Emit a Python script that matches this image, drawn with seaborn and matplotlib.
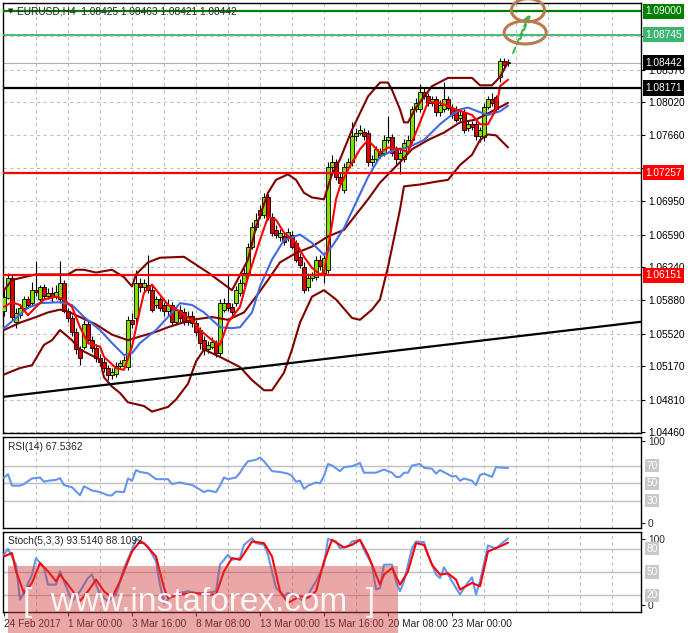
import numpy as np
import matplotlib
matplotlib.use("Agg")
import matplotlib.pyplot as plt
from matplotlib.patches import Ellipse, Rectangle
import seaborn as sns

sns.set_style("white")
plt.rcParams['font.family'] = ['Liberation Sans', 'DejaVu Sans']

# EURUSD H4 candles (bar index = list position)
opens = [1.0576,1.0591,1.0612,1.0565,1.0572,1.0580,1.0589,1.0585,1.0599,1.0589,
         1.0602,1.0593,1.0596,1.0592,1.0589,1.0607,1.0576,1.0569,1.0554,1.0535,
         1.0538,1.0562,1.0545,1.0537,1.0526,1.0522,1.0515,1.0507,1.0509,1.0517,
         1.0517,1.0516,1.0567,1.0569,1.0607,1.0602,1.0605,1.0599,1.0583,1.0589,
         1.0583,1.0576,1.0583,1.0565,1.0578,1.0575,1.0565,1.0571,1.0564,1.0556,
         1.0545,1.0535,1.0538,1.0542,1.0531,1.0578,1.0585,1.0581,1.0585,1.0596,
         1.0607,1.0618,1.0646,1.0667,1.0686,1.0680,1.0699,1.0678,1.0664,1.0656,
         1.0657,1.0656,1.0659,1.0650,1.0635,1.0624,1.0602,1.0612,1.0613,1.0632,
         1.0618,1.0621,1.0732,1.0737,1.0721,1.0707,1.0732,1.0737,1.0765,1.0769,
         1.0770,1.0769,1.0737,1.0740,1.0747,1.0747,1.0761,1.0764,1.0751,1.0740,
         1.0740,1.0754,1.0761,1.0794,1.0794,1.0813,1.0808,1.0801,1.0805,1.0791,
         1.0794,1.0805,1.0796,1.0794,1.0785,1.0791,1.0774,1.0778,1.0778,1.0765,
         1.0764,1.0797,1.0805,1.0807,1.0829,1.0846,1.0845]
closes = [1.0592,1.0612,1.0570,1.0574,1.0580,1.0589,1.0583,1.0599,1.0597,1.0602,
          1.0593,1.0596,1.0592,1.0597,1.0607,1.0576,1.0569,1.0554,1.0535,1.0526,
          1.0562,1.0545,1.0537,1.0526,1.0522,1.0515,1.0507,1.0511,1.0517,1.0520,
          1.0524,1.0567,1.0562,1.0607,1.0602,1.0607,1.0599,1.0578,1.0589,1.0580,
          1.0576,1.0583,1.0565,1.0578,1.0569,1.0565,1.0571,1.0564,1.0554,1.0542,
          1.0535,1.0540,1.0543,1.0531,1.0585,1.0585,1.0580,1.0575,1.0599,1.0607,
          1.0618,1.0646,1.0667,1.0675,1.0680,1.0699,1.0678,1.0661,1.0659,1.0661,
          1.0651,1.0662,1.0646,1.0632,1.0626,1.0599,1.0612,1.0615,1.0632,1.0625,
          1.0634,1.0732,1.0737,1.0721,1.0715,1.0732,1.0737,1.0765,1.0769,1.0772,
          1.0765,1.0737,1.0740,1.0751,1.0745,1.0761,1.0764,1.0747,1.0740,1.0747,
          1.0758,1.0761,1.0794,1.0801,1.0813,1.0808,1.0801,1.0805,1.0791,1.0799,
          1.0805,1.0796,1.0788,1.0783,1.0788,1.0772,1.0778,1.0775,1.0765,1.0772,
          1.0797,1.0805,1.0801,1.0794,1.0846,1.0842,1.0844]
highs = [1.0599,1.0617,1.0615,1.0580,1.0584,1.0593,1.0593,1.0608,1.0630,1.0605,
         1.0606,1.0601,1.0602,1.0605,1.0630,1.0610,1.0580,1.0572,1.0558,1.0539,
         1.0567,1.0567,1.0550,1.0541,1.0530,1.0526,1.0518,1.0515,1.0522,1.0524,
         1.0528,1.0571,1.0574,1.0621,1.0612,1.0611,1.0637,1.0604,1.0593,1.0592,
         1.0586,1.0589,1.0586,1.0582,1.0583,1.0580,1.0576,1.0576,1.0567,1.0559,
         1.0550,1.0544,1.0548,1.0545,1.0589,1.0591,1.0615,1.0585,1.0604,1.0611,
         1.0623,1.0650,1.0673,1.0682,1.0691,1.0704,1.0703,1.0682,1.0669,1.0665,
         1.0661,1.0666,1.0663,1.0653,1.0639,1.0629,1.0617,1.0619,1.0636,1.0637,
         1.0638,1.0737,1.0745,1.0740,1.0726,1.0736,1.0742,1.0780,1.0774,1.0777,
         1.0774,1.0772,1.0745,1.0755,1.0752,1.0766,1.0787,1.0767,1.0754,1.0752,
         1.0762,1.0766,1.0798,1.0806,1.0821,1.0818,1.0812,1.0809,1.0808,1.0804,
         1.0824,1.0808,1.0800,1.0798,1.0793,1.0794,1.0782,1.0782,1.0781,1.0775,
         1.0801,1.0809,1.0812,1.0810,1.0850,1.0850,1.0848]
lows = [1.0571,1.0589,1.0567,1.0558,1.0569,1.0577,1.0580,1.0582,1.0593,1.0585,
        1.0590,1.0589,1.0586,1.0589,1.0585,1.0574,1.0565,1.0550,1.0530,1.0518,
        1.0535,1.0541,1.0532,1.0522,1.0517,1.0511,1.0502,1.0503,1.0505,1.0514,
        1.0514,1.0513,1.0558,1.0565,1.0597,1.0598,1.0596,1.0575,1.0580,1.0577,
        1.0571,1.0571,1.0561,1.0562,1.0565,1.0561,1.0561,1.0559,1.0550,1.0535,
        1.0529,1.0531,1.0535,1.0527,1.0528,1.0575,1.0577,1.0571,1.0582,1.0593,
        1.0604,1.0615,1.0643,1.0664,1.0677,1.0677,1.0675,1.0657,1.0655,1.0652,
        1.0648,1.0652,1.0643,1.0629,1.0623,1.0596,1.0598,1.0609,1.0610,1.0621,
        1.0607,1.0618,1.0727,1.0718,1.0711,1.0704,1.0729,1.0733,1.0760,1.0766,
        1.0761,1.0733,1.0733,1.0737,1.0742,1.0744,1.0758,1.0744,1.0733,1.0724,
        1.0737,1.0751,1.0758,1.0791,1.0791,1.0805,1.0798,1.0798,1.0787,1.0787,
        1.0791,1.0793,1.0785,1.0780,1.0782,1.0769,1.0771,1.0772,1.0761,1.0759,
        1.0760,1.0794,1.0798,1.0791,1.0824,1.0839,1.0841]

# indicator lines (bar, value)
bb_up_x = [0,2,8,16,18,20,23,27,30,32,33,36,39,45,51,57,58,61,63,66,68,71,73,75,77,80,82,84,87,91,
           94,96,97,99,100,101,103,107,111,117,119,122,124,126]
bb_up = [1.0599,1.0610,1.0616,1.0616,1.0621,1.0621,1.0618,1.0621,1.0613,1.0603,1.0616,1.0629,1.0634,
         1.0635,1.0618,1.0599,1.0607,1.0632,1.0667,1.0704,1.0718,1.0724,1.0718,1.0704,1.0699,1.0697,
         1.0724,1.0740,1.0772,1.0808,1.0823,1.0823,1.0815,1.0794,1.0780,1.0780,1.0796,1.0819,1.0828,
         1.0828,1.0820,1.0820,1.0829,1.0845]
bb_mid_x = [0,4,8,11,14,16,19,23,27,31,34,38,41,44,47,52,56,60,63,66,69,73,77,81,85,91,94,99,102,106,
            110,114,118,122,126]
bb_mid = [1.0556,1.0564,1.0570,1.0575,1.0578,1.0576,1.0570,1.0562,1.0551,1.0545,1.0549,1.0554,1.0559,
          1.0563,1.0567,1.0570,1.0567,1.0575,1.0592,1.0610,1.0629,1.0639,1.0646,1.0657,1.0664,1.0697,
          1.0715,1.0737,1.0751,1.0761,1.0769,1.0780,1.0783,1.0792,1.0801]
bb_low_x = [0,4,7,10,12,14,17,19,24,25,27,29,31,35,37,41,43,46,48,50,54,59,62,65,67,70,72,74,77,80,
            83,87,89,92,94,96,99,100,104,108,111,114,117,119,121,123,126]
bb_low = [1.0508,1.0515,1.0518,1.0540,1.0545,1.0556,1.0545,1.0535,1.0524,1.0505,1.0495,1.0488,1.0478,
          1.0474,1.0468,1.0473,1.0481,1.0498,1.0522,1.0535,1.0527,1.0516,1.0502,1.0491,1.0491,1.0510,
          1.0535,1.0564,1.0592,1.0599,1.0589,1.0569,1.0567,1.0578,1.0589,1.0624,1.0686,1.0711,1.0713,
          1.0716,1.0718,1.0734,1.0745,1.0761,1.0767,1.0766,1.0753]
ma_slow_x = [0,3,6,9,14,17,20,24,27,30,32,34,38,41,44,47,50,54,57,59,62,64,67,70,74,77,80,82,85,91,
             94,98,101,105,109,111,114,116,119,121,124,126]
ma_slow = [1.0558,1.0569,1.0580,1.0585,1.0586,1.0583,1.0570,1.0556,1.0542,1.0529,1.0531,1.0542,1.0556,
           1.0570,1.0585,1.0583,1.0575,1.0559,1.0558,1.0559,1.0575,1.0603,1.0632,1.0653,1.0659,1.0650,
           1.0637,1.0646,1.0666,1.0721,1.0743,1.0751,1.0753,1.0761,1.0778,1.0785,1.0794,1.0796,1.0791,
           1.0788,1.0792,1.0798]
ma_fast_x = [0,2,4,6,8,10,13,15,17,19,21,24,25,28,30,32,34,35,37,39,41,44,45,47,49,52,54,56,59,61,
             64,66,68,70,73,75,77,79,80,82,83,84,86,89,91,94,96,99,101,104,106,109,113,117,119,121,
             123,124,126]
ma_fast = [1.0581,1.0586,1.0583,1.0572,1.0581,1.0589,1.0592,1.0589,1.0581,1.0559,1.0542,1.0538,1.0527,
           1.0515,1.0513,1.0538,1.0578,1.0596,1.0605,1.0594,1.0583,1.0576,1.0572,1.0567,1.0556,1.0545,
           1.0540,1.0564,1.0581,1.0613,1.0653,1.0678,1.0675,1.0661,1.0650,1.0635,1.0623,1.0616,1.0618,
           1.0670,1.0697,1.0711,1.0729,1.0751,1.0761,1.0747,1.0753,1.0751,1.0748,1.0780,1.0802,1.0801,
           1.0794,1.0788,1.0778,1.0778,1.0794,1.0819,1.0826]

rsi_x = [0,1,2,4,5,7,9,10,11,13,14,15,17,19,20,22,24,26,27,28,30,31,32,33,34,36,38,39,41,42,
         44,45,47,48,50,51,53,54,55,56,58,59,60,61,63,64,65,67,69,71,72,73,74,75,76,78,79,80,81,82,
         84,85,87,89,90,93,95,97,98,99,100,101,102,104,105,107,108,109,111,112,113,114,115,117,118,
         119,120,122,123,126]
rsi = [56.7,60.4,47.4,47.4,49.3,55.6,56.7,51.9,53,54,56,48,45.6,36.3,46.7,41.9,40,36.3,36.3,40.7,
       40,55.6,53,65.2,63,61.5,54.8,54.8,54.8,49.3,51.1,50,48.1,45.6,40,41.9,40,47.4,56.7,54.8,
       56.7,62.2,69.6,75.2,77,79.6,75.2,64,63,61.1,58.5,51.9,53,43.7,47.4,51.1,50,58.5,72.2,70.4,
       64,68.5,69.6,73.3,62.2,62.2,65.9,62.2,57.4,57.4,62.2,62.2,70.4,72.2,67.8,66.7,61.1,65.2,60.4,
       57.8,58.5,53,55.6,53,48.1,59.6,61.1,57.4,68.5,67.5]

stoch_k_x = [0,1,3,4,5,7,8,10,11,13,14,16,17,19,21,22,24,26,28,30,32,33,34,36,38,39,40,42,44,46,
             48,51,53,54,56,57,59,60,62,63,65,66,68,70,71,73,75,76,78,80,81,83,84,86,87,89,90,92,93,
             94,95,97,98,99,100,102,103,105,106,108,109,110,112,114,115,117,118,119,121,123,124,126]
stoch_k = [72.4,80.2,59.5,14.2,22.8,46.6,68.1,55.2,33.6,33.6,50.9,25,12.1,25,42.2,46.6,20.7,12.1,20.7,
           55.2,78.9,93.1,90.5,83.2,63.8,33.6,9.9,18.5,22.8,25,22.8,22.8,25,59.5,72.4,65.9,68.1,85.3,
           94,87.5,85.3,72.4,29.3,18.5,22.8,18.5,12.1,20.7,37.9,59.5,93.1,89.7,81,83.2,89.7,91.8,78.9,
           59.5,27.2,29.3,59.5,59.5,37.9,25,37.9,81,89.7,88.8,72.4,46.6,42.2,56,37.9,20.7,29.3,43.1,
           20.7,37.9,84.5,80.2,85.3,93.5]
stoch_d_x = [0,2,3,5,7,9,11,13,14,16,19,21,23,25,27,29,32,34,35,38,40,41,44,47,51,53,55,57,59,62,
             65,67,69,71,74,76,78,80,82,85,87,89,91,94,95,97,99,101,103,105,107,109,111,113,114,117,
             119,121,124,126]
stoch_d = [70.3,74.6,50.9,22.8,35.8,61.6,50.9,37.9,46.6,33.6,12.1,25,40.1,25,16.4,37.9,76.7,89.7,87.5,
           70.3,29.3,16.4,20.7,22.8,20.7,20.7,50.9,68.1,65.9,89.7,87.5,70.3,25,9.9,18.5,16.4,25,63.8,
           91.8,81.9,85.3,91.8,72.4,33.6,46.6,55.2,33.6,50.9,87.5,85.3,59.5,46.6,48.1,40.1,27.2,35.8,
           31.5,76.7,83.2,88.1]

# chart furniture
price_ticks = [1.0446, 1.0481, 1.0517, 1.0552, 1.0588, 1.0624, 1.0659, 1.0695,
               1.0731, 1.0766, 1.0802, 1.0837, 1.0873]
hidden_ticks = [1.0731, 1.0873]   # covered by level boxes on the original
levels = [1.09000, 1.08745, 1.08171, 1.07257, 1.06151]
level_colors = ['#008000', '#3cb371', '#000000', '#ff0000', '#ff0000']
last_price = 1.08442
trend_pts = [(0, 1.0484), (126, 1.0548)]
label_bars = [0, 16, 32, 48, 64, 80, 96, 112]
label_text = ['24 Feb 2017', '1 Mar 00:00', '3 Mar 16:00', '8 Mar 08:00',
              '13 Mar 00:00', '15 Mar 16:00', '20 Mar 08:00', '23 Mar 00:00']
arrow_from = [(127.0, 1.0852), (128.8, 1.0867)]
arrow_to = [(131.5, 1.0899), (131.8, 1.0899)]
circles = [(131.0, 1.0901, 8.3), (130.3, 1.0877, 10.5)]

W, H = 688, 633
fig = plt.figure(figsize=(W / 100, H / 100), dpi=100)
ax = fig.add_axes([3 / W, 1 - 433 / H, 638 / W, 430 / H])
ax_rsi = fig.add_axes([3 / W, 1 - 528 / H, 638 / W, 91 / H])
ax_st = fig.add_axes([3 / W, 1 - 612 / H, 638 / W, 80 / H])

grid_kw = dict(color='#c0c0c0', lw=0.8, ls=(0, (3, 3)))
xlim = (-0.25, 159.25)
for a in (ax, ax_rsi, ax_st):
    a.set_xlim(*xlim)
    a.set_xticks(np.arange(8, 160, 8), minor=True)
    a.grid(which='minor', axis='x', **grid_kw)
    a.set_axisbelow(True)
    for s in a.spines.values():
        s.set_color('black')
        s.set_linewidth(1)

# candles
x = np.arange(len(closes))
o, c, h, l = map(np.array, (opens, closes, highs, lows))
up = c >= o
ax.vlines(x, np.minimum(l, np.minimum(o, c)), np.maximum(h, np.maximum(o, c)),
          color='black', lw=0.8, zorder=3)
body = np.maximum(np.abs(c - o), 0.00004)
ax.bar(x[up], body[up], bottom=o[up], width=0.78, color='#7fe000',
       edgecolor='black', linewidth=0.6, zorder=4)
ax.bar(x[~up], body[~up], bottom=c[~up], width=0.78, color='#e00000',
       edgecolor='black', linewidth=0.6, zorder=4)

for xs, ys, col in [(bb_up_x, bb_up, '#800000'), (bb_mid_x, bb_mid, '#800000'),
                    (bb_low_x, bb_low, '#800000'), (ma_slow_x, ma_slow, '#4169e1'),
                    (ma_fast_x, ma_fast, '#ff0000')]:
    sns.lineplot(x=xs, y=ys, ax=ax, color=col, linewidth=1.5, zorder=5)

ax.axline(trend_pts[0], trend_pts[1], color='black', lw=1.6, zorder=6)
ax.axhline(last_price, color='#b0b0b0', lw=0.8, zorder=2)
for lv, col in zip(levels, level_colors):
    ax.axhline(lv, color=col, lw=1.6 if col != '#3cb371' else 1.3, zorder=6)

for (x0, y0), (x1, y1) in zip(arrow_from, arrow_to):
    ax.annotate('', xy=(x1, y1), xytext=(x0, y0), annotation_clip=False,
                arrowprops=dict(arrowstyle='-|>', color='#2db84a', lw=1.4,
                                ls=(0, (3, 2)), mutation_scale=8), zorder=7)
for cx, cy, cw in circles:
    ax.add_patch(Ellipse((cx, cy), cw, 0.00248, fill=False, ec='#b97a52',
                         lw=2.2, clip_on=False, zorder=8))

ax.set_ylim(1.04449, 1.09088)
ax.set_yticks(price_ticks)
ax.set_yticklabels(['' if p in hidden_ticks else f'{p:.5f}' for p in price_ticks])
ax.grid(which='major', axis='y', **grid_kw)
ax.yaxis.tick_right()
ax.tick_params(axis='y', length=3, pad=2, labelsize=7.3, colors='black')
ax.tick_params(axis='x', which='both', length=0, labelbottom=False)
ax.set_xticks([])
ax.set_xlabel('')
ax.set_ylabel('')

box_levels = levels + [last_price]
box_colors = level_colors + ['#000000']
for lv, col in zip(box_levels, box_colors):
    ax.annotate(f'{lv:.5f}', xy=(1, lv), xycoords=('axes fraction', 'data'),
                xytext=(3, 0), textcoords='offset points', va='center', ha='left',
                fontsize=7.3, color='white', annotation_clip=False, zorder=10,
                bbox=dict(boxstyle='square,pad=0.25', fc=col, ec='none'))

# RSI
sns.lineplot(x=rsi_x, y=rsi, ax=ax_rsi, color='#6495ed', linewidth=1.5, zorder=5)
ax_rsi.set_ylim(-1, 103)
for lv in (70, 50, 30):
    ax_rsi.axhline(lv, color='#c0c0c0', lw=1, zorder=2)
    ax_rsi.annotate(str(lv), xy=(1, lv), xycoords=('axes fraction', 'data'),
                    xytext=(4, 0), textcoords='offset points', va='center', ha='left',
                    fontsize=7.3, color='white', annotation_clip=False,
                    bbox=dict(boxstyle='square,pad=0.15', fc='#c8c8c8', ec='none'))
ax_rsi.set_yticks([4.7, 98.4])
ax_rsi.set_yticklabels(['0', '100'])
ax_rsi.yaxis.tick_right()
ax_rsi.tick_params(axis='y', length=3, pad=2, labelsize=7.3)
ax_rsi.set_xticks([])
ax_rsi.set_xlabel('')
ax_rsi.set_ylabel('')

# Stochastic
sns.lineplot(x=stoch_k_x, y=stoch_k, ax=ax_st, color='#6495ed', linewidth=1.5, zorder=5)
sns.lineplot(x=stoch_d_x, y=stoch_d, ax=ax_st, color='#ff0000', linewidth=1.5, zorder=6)
ax_st.set_ylim(-2, 102)
for lv in (80, 50, 20):
    ax_st.axhline(lv, color='#c0c0c0', lw=1, zorder=2)
    ax_st.annotate(str(lv), xy=(1, lv), xycoords=('axes fraction', 'data'),
                   xytext=(4, 0), textcoords='offset points', va='center', ha='left',
                   fontsize=7.3, color='white', annotation_clip=False,
                   bbox=dict(boxstyle='square,pad=0.15', fc='#c8c8c8', ec='none'))
ax_st.set_yticks([7.5, 93.3])
ax_st.set_yticklabels(['0', '100'])
ax_st.yaxis.tick_right()
ax_st.tick_params(axis='y', length=3, pad=2, labelsize=7.3)
ax_st.set_xticks(label_bars)
ax_st.set_xticklabels(label_text, ha='left', fontsize=7.3)
ax_st.tick_params(axis='x', which='major', length=3, pad=2, bottom=True)
ax_st.set_xlim(*xlim)
ax_st.set_xlabel('')
ax_st.set_ylabel('')

# headers
fig.text(8 / W, 1 - 11 / H, '\u25bc', fontsize=5, va='center', family=['DejaVu Sans'])
fig.text(17 / W, 1 - 11 / H, 'EURUSD,H4  1.08425 1.08463 1.08421 1.08442',
         fontsize=7.3, va='center')
fig.text(8 / W, 1 - 447 / H, 'RSI(14) 67.5362', fontsize=7.3, va='center')
fig.text(8 / W, 1 - 541 / H, 'Stoch(5,3,3) 93.5140 88.1092', fontsize=7.3, va='center')

# watermark
fig.patches.append(Rectangle((8 / W, 0), 390 / W, 67 / H, transform=fig.transFigure,
                             fc='#d23c3c', alpha=0.45, ec='none', zorder=20))
fig.text(199 / W, 1 - 611 / H, '[  www.instaforex.com  ]', fontsize=24,
         color='white', alpha=0.9, ha='center', va='baseline', zorder=21)

fig.savefig('out.png', dpi=100)
